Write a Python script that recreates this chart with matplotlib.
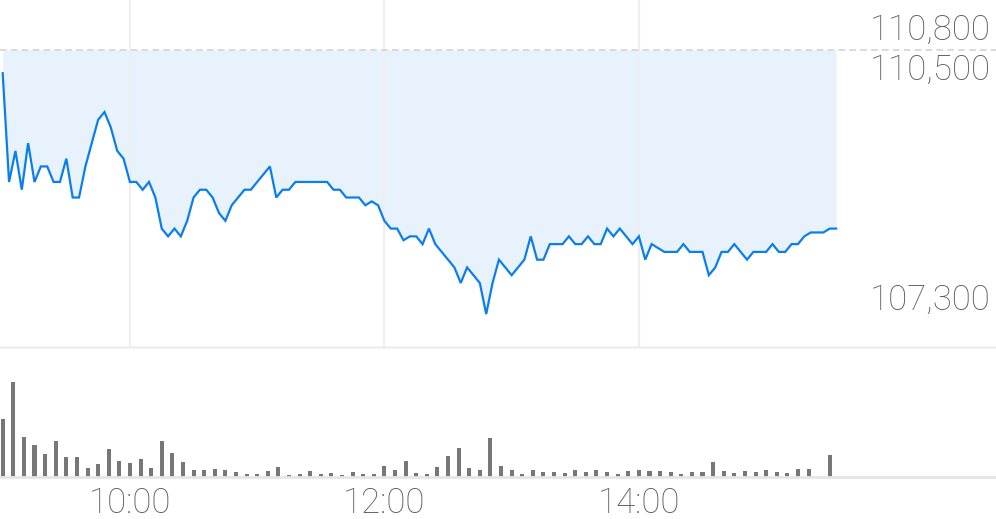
import numpy as np
import pandas as pd
import matplotlib
matplotlib.use('Agg')
import matplotlib.pyplot as plt
import matplotlib.transforms as mtransforms

# cena co 3 minuty od 9:00
price = [110200, 108800, 109200, 108700, 109300, 108800, 109000, 109000, 108800, 108800,
         109100, 108600, 108600, 109000, 109300, 109600, 109700, 109500, 109200, 109100,
         108800, 108800, 108700, 108800, 108600, 108200, 108100, 108200, 108100, 108300,
         108600, 108700, 108700, 108600, 108400, 108300, 108500, 108600, 108700, 108700,
         108800, 108900, 109000, 108600, 108700, 108700, 108800, 108800, 108800, 108800,
         108800, 108800, 108700, 108700, 108600, 108600, 108600, 108500, 108550, 108500,
         108300, 108200, 108200, 108050, 108100, 108100, 108000, 108200, 108000, 107900,
         107800, 107700, 107500, 107700, 107600, 107500, 107100, 107500, 107800, 107700,
         107600, 107700, 107800, 108100, 107800, 107800, 108000, 108000, 108000, 108100,
         108000, 108000, 108100, 108000, 108000, 108200, 108100, 108200, 108100, 108000,
         108100, 107800, 108000, 107950, 107900, 107900, 107900, 108000, 107900, 107900,
         107900, 107600, 107700, 107900, 107900, 108000, 107900, 107800, 107900, 107900,
         107900, 108000, 107900, 107900, 108000, 108000, 108100, 108150, 108150, 108150,
         108200, 108200]

# wolumen co 5 minut
volume = [58, 95, 40, 32, 23, 36, 20, 20, 9, 13,
          28, 16, 14, 18, 9, 36, 24, 15, 7, 7,
          8, 7, 5, 3, 3, 6, 10, 2, 3, 6,
          3, 4, 2, 5, 3, 3, 11, 7, 16, 4,
          3, 10, 21, 29, 9, 7, 39, 11, 7, 3,
          7, 5, 5, 4, 7, 5, 7, 5, 3, 6,
          7, 6, 6, 5, 3, 5, 5, 15, 6, 4,
          6, 5, 7, 5, 4, 8, 8, 0, 22]

prev_close = 110500
high_label = '110,800'
close_label = '110,500'
low_label = '107,300'
tick_labels = ['10:00', '12:00', '14:00']

start = pd.Timestamp('2024-01-02 09:00')
t_price = pd.date_range(start, periods=len(price), freq='3min')
t_vol = pd.date_range(start, periods=len(volume), freq='5min')
ticks = [pd.Timestamp('2024-01-02 ' + s) for s in tick_labels]

plt.rcParams['font.family'] = ['Roboto', 'DejaVu Sans']
txt_color = '#5e5e5e'
fs = 25

fig = plt.figure(figsize=(9.96, 5.19), dpi=100)
ax = fig.add_axes([0, 1 - 347 / 519, 1, 347 / 519])
axv = fig.add_axes([0, 1 - 477 / 519, 1, 130 / 519])

xmin = start - pd.Timedelta(minutes=1.27)
xmax = start + pd.Timedelta(minutes=468.4)

# wykres ceny
ax.fill_between(t_price, price, prev_close, color='#e8f2fd', lw=0, zorder=1)
for t in ticks:
    ax.axvline(t, color='#efefef', lw=1.6, zorder=2)
ax.axhline(prev_close, color='#d9d9d9', lw=1.4, ls=(0, (3.4, 2.2)), zorder=2)
ax.plot(t_price, price, color='#0a7ef0', lw=1.6, zorder=3, solid_joinstyle='miter')
ax.set_xlim(xmin, xmax)
ax.set_ylim(106676, 111142)
ax.set_xticks([])
ax.set_yticks([])
for s in ['top', 'left', 'right']:
    ax.spines[s].set_visible(False)
ax.spines['bottom'].set_color('#eeeeee')
ax.spines['bottom'].set_linewidth(1.8)
ax.patch.set_alpha(0)

tr = mtransforms.blended_transform_factory(ax.transAxes, ax.transData)
ax.annotate(high_label, (0.995, 110800), xycoords=tr, xytext=(0, -4),
            textcoords='offset pixels', ha='right', va='center',
            fontsize=fs, color=txt_color, fontweight='light')
ax.annotate(close_label, (0.995, prev_close), xycoords=tr, xytext=(0, -20),
            textcoords='offset pixels', ha='right', va='center',
            fontsize=fs, color=txt_color, fontweight='light')
ax.annotate(low_label, (0.995, 107300), xycoords=tr, xytext=(0, -2),
            textcoords='offset pixels', ha='right', va='center',
            fontsize=fs, color=txt_color, fontweight='light')

# wolumen
axv.bar(t_vol, volume, width=1.9 / 1440, color='#777777', zorder=2)
axv.set_xlim(xmin, xmax)
axv.set_ylim(0, 130)
axv.set_yticks([])
axv.set_xticks(ticks)
axv.set_xticklabels(tick_labels, fontsize=fs, color=txt_color, fontweight='light')
axv.tick_params(axis='x', length=0, pad=7)
for s in ['top', 'left', 'right']:
    axv.spines[s].set_visible(False)
axv.spines['bottom'].set_color('#e6e6e6')
axv.spines['bottom'].set_linewidth(2)
axv.patch.set_alpha(0)

fig.savefig('out.png', dpi=100)
